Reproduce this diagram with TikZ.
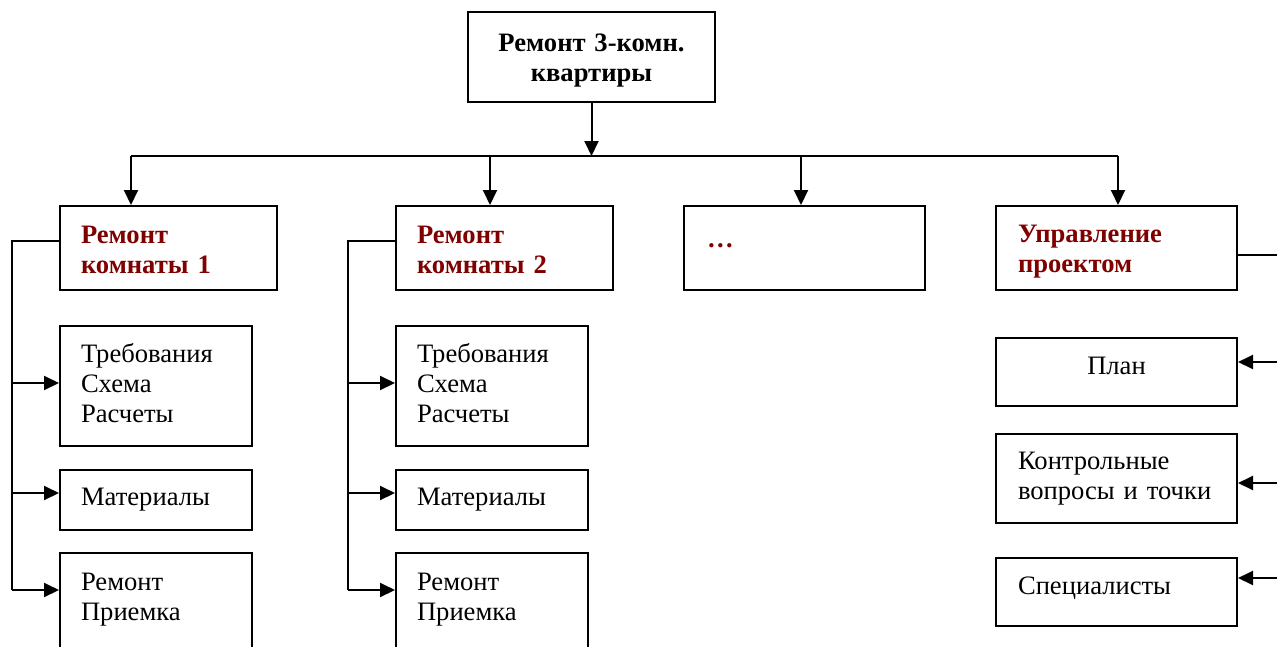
\documentclass[tikz,border=0pt]{standalone}
\usepackage{fontspec}
\setmainfont{Liberation Serif}
\usetikzlibrary{arrows.meta}
\definecolor{dred}{RGB}{128,0,0}
\tikzset{
  box/.style={draw, line width=2pt, inner ysep=0pt, align=left,
    font=\fontsize{26.6}{30}\selectfont},
  hd/.style={box, font=\fontsize{26.6}{30}\selectfont\bfseries, text=dred},
  wire/.style={line width=2pt},
  conn/.style={line width=2pt, -{Triangle[length=15pt,width=14pt]}},
  bl/.style={text height=20pt, text depth={20pt-2*(#1)}},
}
\begin{document}
\begin{tikzpicture}[x=1pt,y=-1pt]
\useasboundingbox (0,0) rectangle (1277,646);
\clip (0,0) rectangle (1277,646);
% top
\node[box, bl=-6pt, font=\fontsize{26.6}{30}\selectfont\bfseries, align=center, text width=205pt,
  minimum width=247pt, minimum height=90pt] (top) at (591.5,57) {Ремонт 3-комн.\\квартиры};
% level 2
\node[hd, bl=-5pt, minimum width=217pt, minimum height=84pt, text width=175pt, inner xsep=21pt] (r1) at (168.5,248) {Ремонт\\комнаты 1};
\node[hd, bl=-5pt, minimum width=217pt, minimum height=84pt, text width=175pt, inner xsep=21pt] (r2) at (504.5,248) {Ремонт\\комнаты 2};
\node[hd, bl=-1pt, minimum width=241pt, minimum height=84pt, text width=195pt, inner xsep=23pt] (r3) at (804.5,248) {…};
\node[hd, bl=-6pt, minimum width=241pt, minimum height=84pt, text width=197pt, inner xsep=22pt] (pm) at (1116.5,248) {Управление\\проектом};
% column 1
\node[box, bl=-24pt, minimum width=192pt, minimum height=120pt, text width=150pt, inner xsep=21pt] (a1) at (156,386) {Требования\\Схема\\Расчеты};
\node[box, bl=5pt, minimum width=192pt, minimum height=60pt, text width=150pt, inner xsep=21pt] (b1) at (156,500) {Материалы};
\node[box, bl=-23pt, minimum width=192pt, minimum height=120pt, text width=150pt, inner xsep=21pt] (c1) at (156,613) {Ремонт\\Приемка};
% column 2
\node[box, bl=-24pt, minimum width=192pt, minimum height=120pt, text width=150pt, inner xsep=21pt] (a2) at (492,386) {Требования\\Схема\\Расчеты};
\node[box, bl=5pt, minimum width=192pt, minimum height=60pt, text width=150pt, inner xsep=21pt] (b2) at (492,500) {Материалы};
\node[box, bl=-23pt, minimum width=192pt, minimum height=120pt, text width=150pt, inner xsep=21pt] (c2) at (492,613) {Ремонт\\Приемка};
% column 4
\node[box, bl=2pt, align=center, text width=197pt, minimum width=241pt, minimum height=68pt] (p1) at (1116.5,372) {План};
\node[box, bl=-9pt, minimum width=241pt, minimum height=89pt, text width=197pt, inner xsep=22pt] (p2) at (1116.5,478.5) {Контрольные\\вопросы и точки};
\node[box, bl=2pt, minimum width=241pt, minimum height=68pt, text width=197pt, inner xsep=22pt] (p3) at (1116.5,592) {Специалисты};
% bus
\coordinate (bus) at (591.5,156);
\coordinate (busL) at (131,156);
\coordinate (busR) at (1118,156);
\coordinate (bus2) at (490,156);
\coordinate (bus3) at (801,156);
\draw[conn] (top.south) -- (bus);
\draw[wire] (busL) -- (busR);
\draw[conn] (busL) -- (busL |- r1.north);
\draw[conn] (bus2) -- (bus2 |- r2.north);
\draw[conn] (bus3) -- (bus3 |- r3.north);
\draw[conn] (busR) -- (busR |- pm.north);
% left rails
\coordinate (l1) at (12,241);
\coordinate (l2) at (348,241);
\draw[wire] (r1.west |- l1) -- (l1) -- (12,590);
\draw[conn] (12,383) -- (a1.west |- 0,383);
\draw[conn] (12,493) -- (b1.west |- 0,493);
\draw[conn] (12,590) -- (c1.west |- 0,590);
\draw[wire] (r2.west |- l2) -- (l2) -- (348,590);
\draw[conn] (348,383) -- (a2.west |- 0,383);
\draw[conn] (348,493) -- (b2.west |- 0,493);
\draw[conn] (348,590) -- (c2.west |- 0,590);
% right rail
\coordinate (rr) at (1290,255);
\draw[wire] (pm.east |- rr) -- (rr) -- (1290,578);
\draw[conn] (1290,362) -- (p1.east |- 0,362);
\draw[conn] (1290,483) -- (p2.east |- 0,483);
\draw[conn] (1290,578) -- (p3.east |- 0,578);
\end{tikzpicture}
\end{document}
